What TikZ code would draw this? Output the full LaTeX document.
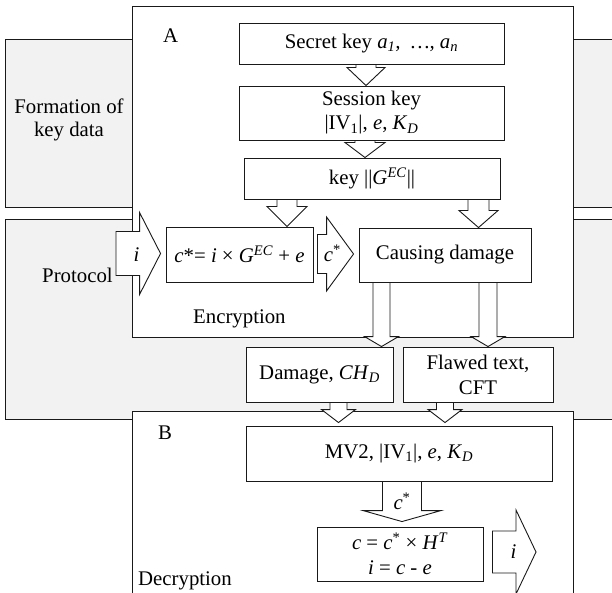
\documentclass[tikz,border=0pt]{standalone}
\usepackage{fontspec}
\setmainfont{Liberation Serif}
\usetikzlibrary{calc}

\pgfdeclarelayer{frames}
\pgfdeclarelayer{arrows}
\pgfsetlayers{frames,arrows,main}

\definecolor{panelgray}{RGB}{242,242,242}
\definecolor{ink}{RGB}{25,25,25}
\newcommand\fs{\fontsize{20.8}{24}\selectfont}

% downward block arrow: #1 tail point, #2 tip point (only its y is used),
% #3 head length, #4 shaft half-width, #5 head half-width
\newcommand\blockdown[5]{%
  \begin{pgfonlayer}{arrows}
  \draw[blk] let \p1=#1, \p2=#2 in
    (\x1-#4pt,\y1) -- (\x1-#4pt,\y2+#3pt) -- (\x1-#5pt,\y2+#3pt) -- (\x1,\y2)
    -- (\x1+#5pt,\y2+#3pt) -- (\x1+#4pt,\y2+#3pt) -- (\x1+#4pt,\y1);
  \end{pgfonlayer}}

% rightward block arrow: #1 tail point (only its x is used), #2 tip point,
% #3 head length, #4 shaft half-width, #5 head half-width
\newcommand\blockright[5]{%
  \begin{pgfonlayer}{arrows}
  \draw[blk] let \p1=#1, \p2=#2 in
    (\x1,\y2+#4pt) -- (\x2-#3pt,\y2+#4pt) -- (\x2-#3pt,\y2+#5pt) -- (\x2,\y2)
    -- (\x2-#3pt,\y2-#5pt) -- (\x2-#3pt,\y2-#4pt) -- (\x1,\y2-#4pt) -- cycle;
  \end{pgfonlayer}}

\begin{document}
\begin{tikzpicture}[x=1pt,y=-1pt,font=\fs,
  box/.style={draw=ink,fill=white,line width=0.9pt,inner sep=0pt,align=center},
  blk/.style={draw=ink,fill=white,line width=0.9pt,line join=miter},
  frame/.style={draw=ink,line width=0.9pt},
  lbl/.style={inner sep=0pt}]
\useasboundingbox (0,0) rectangle (612,593);
\clip (0,0) rectangle (612,593);

% stage panels and the two party frames
\begin{pgfonlayer}{frames}
  \draw[frame,fill=panelgray] (5,39) rectangle (640,207);
  \draw[frame,fill=panelgray] (5,219) rectangle (640,419);
  \draw[frame,fill=white] (132,6) rectangle (573,337);
  \draw[frame,fill=white] (132,411) rectangle (573,640);
\end{pgfonlayer}

% labels
\node[lbl,align=center,font=\fontsize{20.8}{23.5}\selectfont] (formation) at (69,120) {Formation of\\key data};
\node[lbl,anchor=base west] (protocol) at (42,282) {Protocol};
\node[lbl,anchor=base west] (encryption) at (193,323) {Encryption};
\node[lbl,anchor=base west] (decryption) at (138,585) {Decryption};
\node[lbl,anchor=base west] (partA) at (163,43) {A};
\node[lbl,anchor=base west] (partB) at (158,439) {B};

% processing blocks
\node[box,minimum width=265,minimum height=41] (secret) at (371.5,43.5)
  {Secret key \textit{a}\textsubscript{\textit{1}}\textit{,\enspace…, a}\textsubscript{\textit{n}}};
\node[box,minimum width=265,minimum height=54] (session) at (371.5,113)
  {Session key\\|IV\textsubscript{1}|, \textit{e}, \textit{K}\textsubscript{\textit{D}}};
\node[box,minimum width=256,minimum height=41] (keyg) at (372,178.5)
  {key ||\textit{G}\textsuperscript{\textit{EC}}||};
\node[box,minimum width=147,minimum height=55] (cstar) at (239.5,254.5)
  {\textit{c}*= \textit{i} × \textit{G}\textsuperscript{\textit{EC}} + \textit{e}};
\node[box,minimum width=172,minimum height=54] (causing) at (445,255)
  {Causing damage};
\node[box,minimum width=147,minimum height=55] (damage) at (319.5,374.5)
  {Damage, \textit{CH}\textsubscript{\textit{D}}};
\node[box,minimum width=150,minimum height=55,font=\fontsize{20.8}{25}\selectfont] (flawed) at (478,374.5)
  {Flawed text,\\CFT};
\node[box,minimum width=306,minimum height=55] (mv2) at (399,453.5)
  {MV2, |IV\textsubscript{1}|, \textit{e}, \textit{K}\textsubscript{\textit{D}}};
\node[box,minimum width=166,minimum height=54,font=\fontsize{20.8}{25}\selectfont] (dec) at (400,554)
  {\textit{c} = \textit{c}\textsuperscript{*} × \textit{H}\textsuperscript{\textit{T}}\\\textit{i} = \textit{c} - \textit{e}};

% free ends of the input and output arrows
\coordinate (iin) at (116,253.5);
\coordinate (iout) at (536,552);

% block arrows between the blocks
\blockdown{($(secret.south)+(-5.5,0)$)}{(session.north)}{18}{10}{19}
\blockdown{($(session.south)+(-6.5,0)$)}{(keyg.north)}{15}{10}{20}
\blockdown{($(keyg.south)+(-85,0)$)}{(cstar.north)}{20}{10}{20}
\blockdown{($(keyg.south)+(106.5,0)$)}{(causing.north)}{17}{10.5}{19.5}
\blockdown{($(causing.south)+(-63.5,0)$)}{(damage.north)}{10}{8.5}{17}
\blockdown{($(causing.south)+(43,0)$)}{(flawed.north)}{10}{9}{17}
\blockdown{($(damage.south)+(19,0)$)}{($(mv2.north)+(0,-3)$)}{13}{8.5}{17}
\blockdown{($(flawed.south)+(-33,0)$)}{($(mv2.north)+(0,-3)$)}{13}{8.5}{17}
\blockdown{($(mv2.south)+(3,0)$)}{($(dec.north)+(0,-5)$)}{11}{19.5}{39}

\blockright{(iin)}{($(cstar.west)+(-5,-1)$)}{21}{22}{41}
\blockright{($(cstar.east)+(4,0)$)}{($(causing.west)+(-5,-1)$)}{27}{19.5}{37}
\blockright{($(dec.east)+(9,0)$)}{(iout)}{20}{21}{42}

% arrow labels
\node[lbl] (lblin) at ($(cstar.west)+(-29,0)$) {\textit{i}};
\node[lbl] (lblcs) at ($(cstar.east)+(19,-1)$) {\textit{c}\textsuperscript{*}};
\node[lbl] (lblcd) at ($(mv2.south)+(3,20)$) {\textit{c}\textsuperscript{*}};
\node[lbl] (lblout) at ($(dec.east)+(30,-2)$) {\textit{i}};
\end{tikzpicture}
\end{document}
